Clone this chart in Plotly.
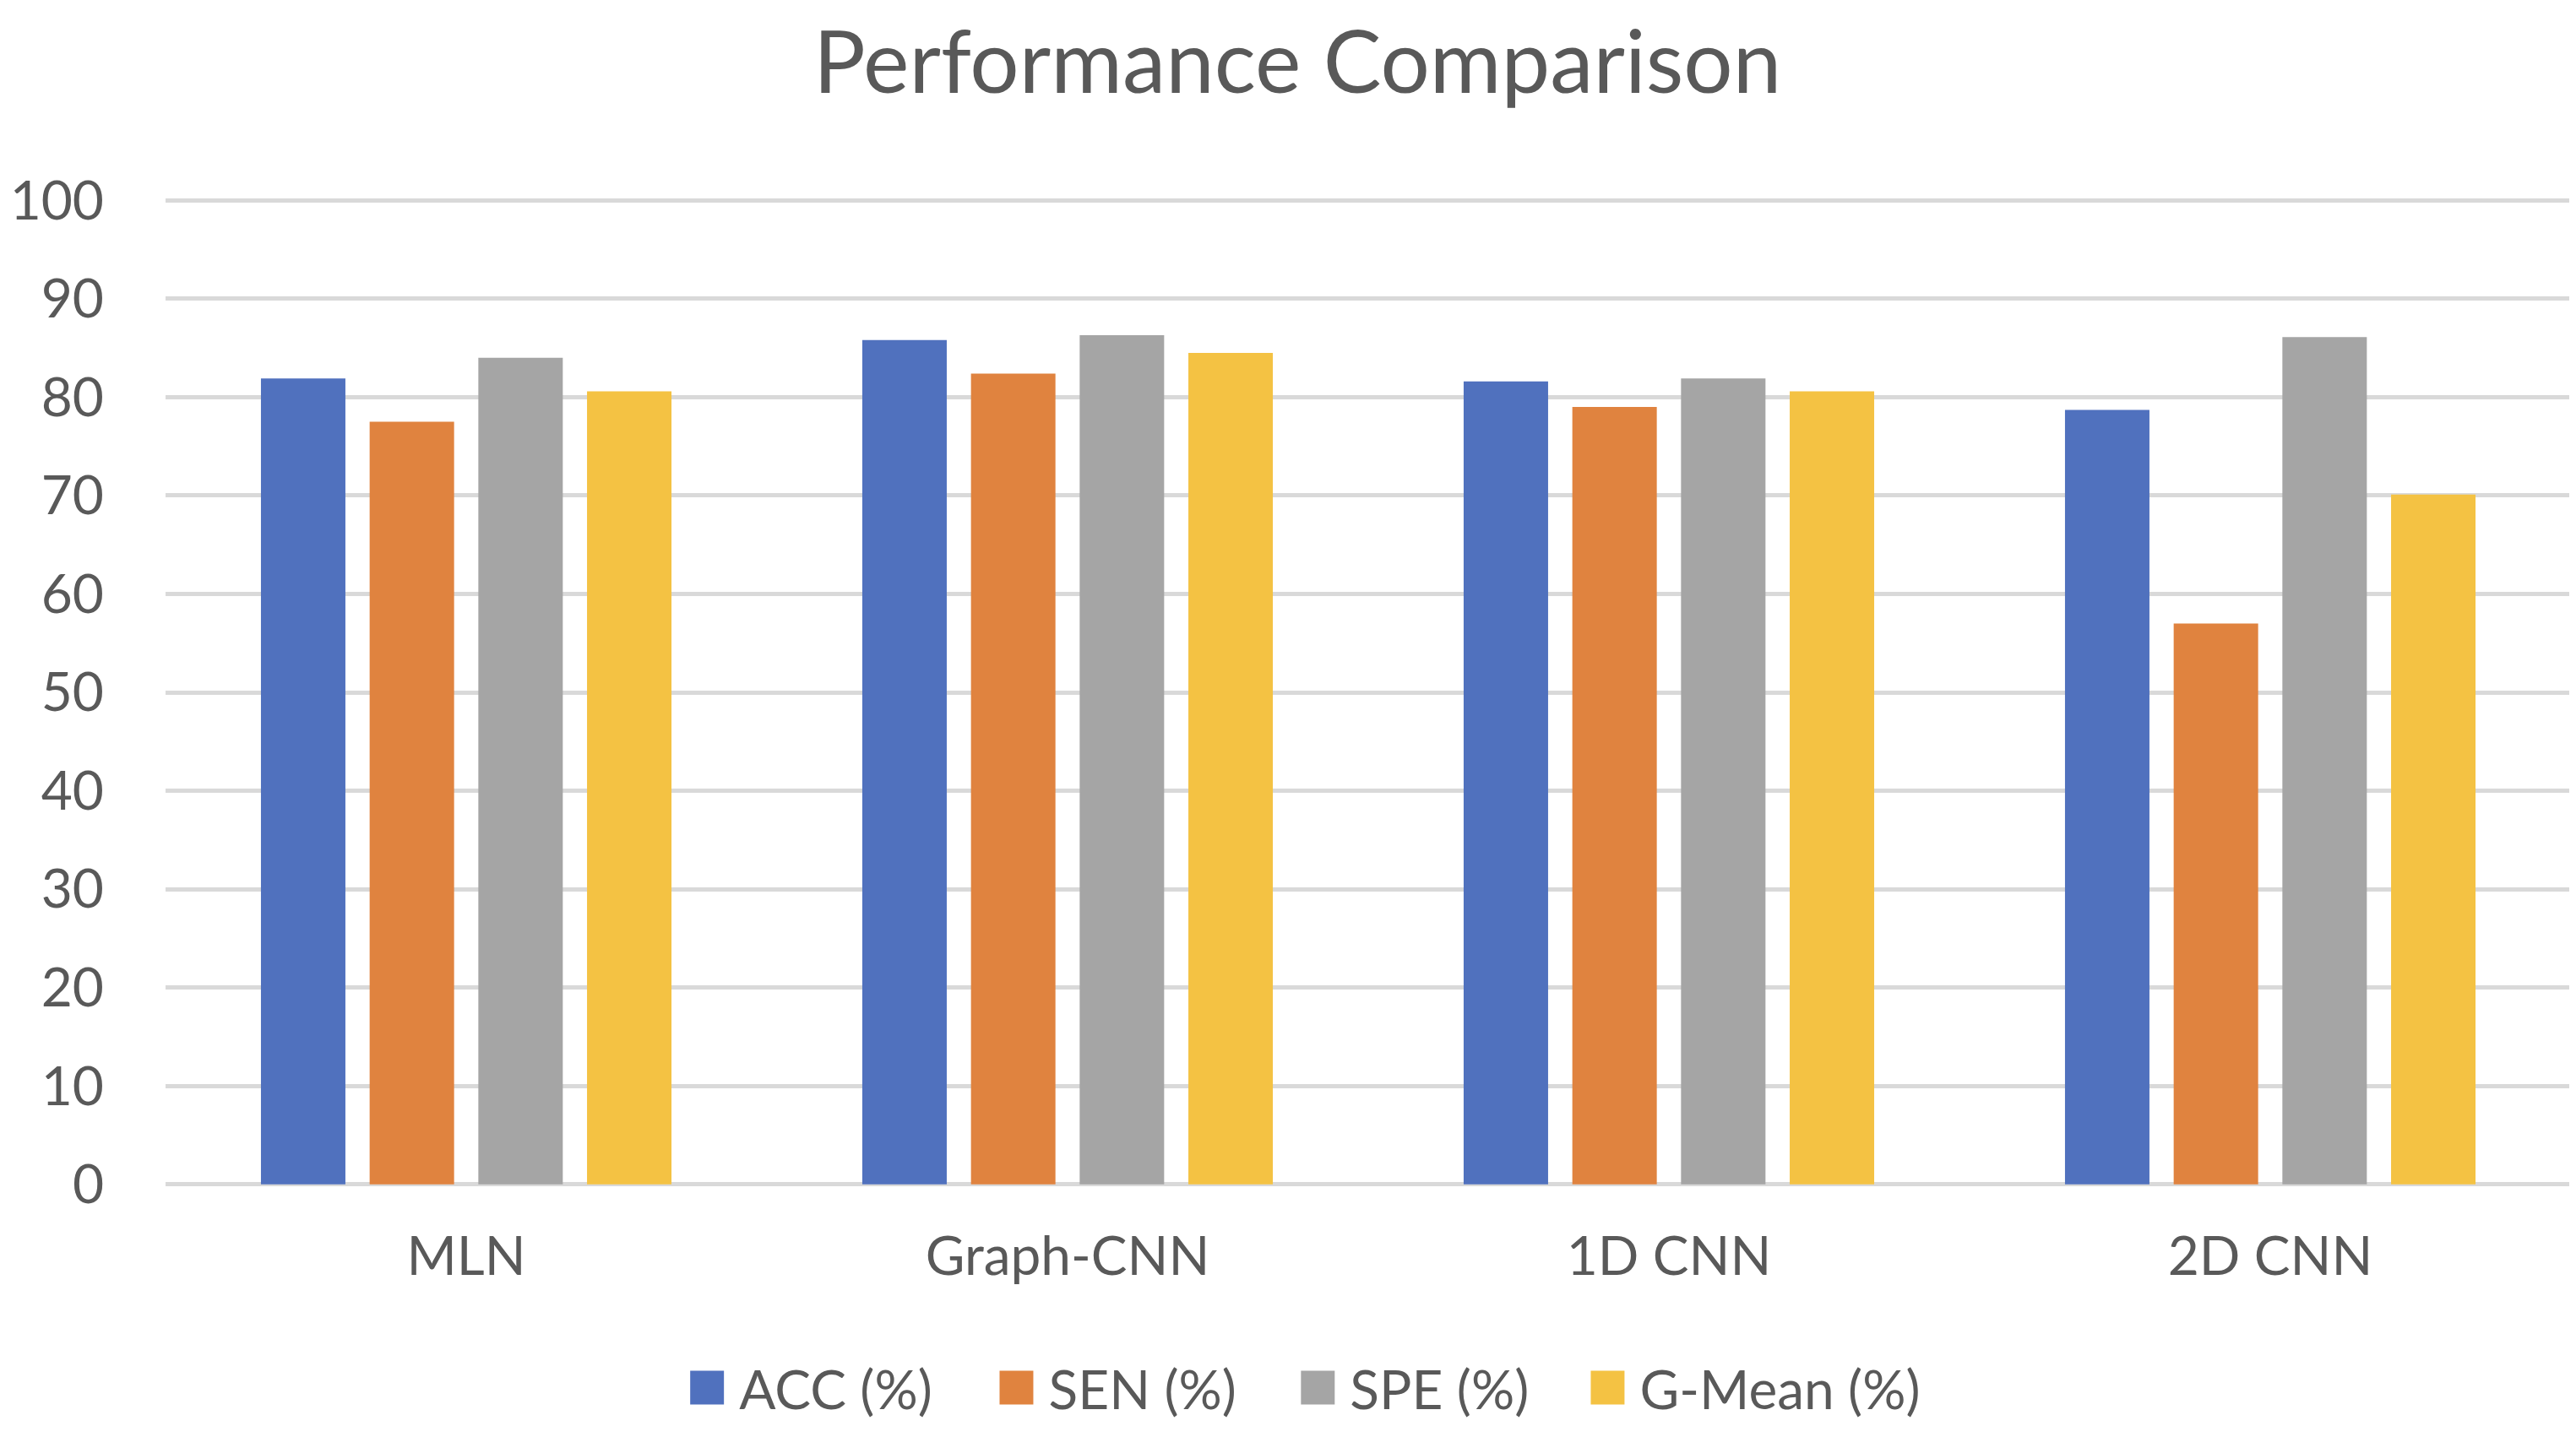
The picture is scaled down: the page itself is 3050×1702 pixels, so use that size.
import plotly.graph_objects as go

categories = ["MLN", "Graph-CNN", "1D CNN", "2D CNN"]
acc = [81.9, 85.8, 81.6, 78.7]
sen = [77.5, 82.4, 79.0, 57.0]
spe = [84.0, 86.3, 81.9, 86.1]
gmean = [80.6, 84.5, 80.6, 70.1]
series_names = ["ACC (%)", "SEN (%)", "SPE (%)", "G-Mean (%)"]
series_values = [acc, sen, spe, gmean]
colors = ["#5071BE", "#E0833F", "#A5A5A5", "#F4C243"]
y_ticks = [0, 10, 20, 30, 40, 50, 60, 70, 80, 90, 100]

FONT = "Lato"
TXT = "#595959"

# one legend box per series, placed like the reference's legend row
legend_ids = ["legend", "legend2", "legend3", "legend4"]
legend_x = [0.2594, 0.3795, 0.4965, 0.609]

fig = go.Figure()
for name, vals, col, lid in zip(series_names, series_values, colors, legend_ids):
    fig.add_trace(go.Bar(x=categories, y=vals, name=name, legend=lid,
                         marker=dict(color=col, line=dict(width=0))))

legend_common = dict(orientation="h", xanchor="left", xref="container",
                     y=1 - 1636 / 1702, yanchor="middle", yref="container",
                     font=dict(family=FONT, size=64, color=TXT),
                     itemwidth=66, bgcolor="rgba(0,0,0,0)", borderwidth=0)
legends = {lid: dict(x=lx, **legend_common) for lid, lx in zip(legend_ids, legend_x)}

fig.update_layout(
    width=3050, height=1702,
    paper_bgcolor="white", plot_bgcolor="white",
    barmode="group", bargap=0.277, bargroupgap=0.223,
    margin=dict(l=188, r=14, t=227, b=305, autoexpand=False),
    font=dict(family=FONT, color=TXT, size=64),
    title=dict(text="Performance Comparison", x=0.501, xanchor="center",
               y=1 - 66 / 1702, yanchor="middle", yref="container",
               font=dict(family=FONT, size=103, color=TXT)),
    showlegend=True,
    **legends,
)
fig.update_yaxes(range=[-0.2, 100.2], tickvals=y_ticks, showgrid=True,
                 gridcolor="#D9D9D9", gridwidth=5, zeroline=False,
                 showline=False, ticks="", ticklabelstandoff=72,
                 automargin=False,
                 tickfont=dict(family=FONT, size=64, color=TXT))
fig.update_xaxes(showgrid=False, zeroline=False, showline=False, ticks="",
                 ticklabelstandoff=40, automargin=False,
                 tickfont=dict(family=FONT, size=64, color=TXT))

post = """
function bigSwatches(){
  document.querySelectorAll('.legendpoints path').forEach(function(p){
    if (p.dataset.origT === undefined) { p.dataset.origT = p.getAttribute('transform') || ''; }
    p.setAttribute('transform', p.dataset.origT + ' scale(3.33)');
  });
}
bigSwatches();
var gd = document.getElementsByClassName('plotly-graph-div')[0];
if (gd && gd.on) { gd.on('plotly_afterplot', bigSwatches); }
"""

fig.write_html("out.html", post_script=post)
